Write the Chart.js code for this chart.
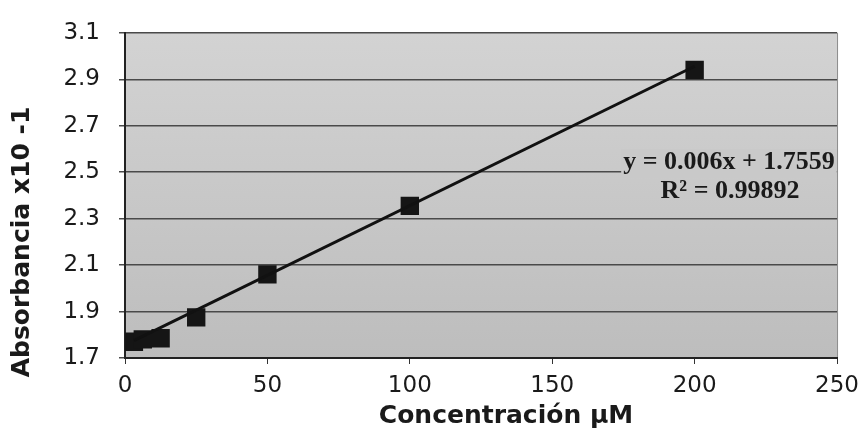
<!DOCTYPE html>
<html>
<head>
<meta charset="utf-8">
<script src="https://cdn.jsdelivr.net/npm/chart.js@4"></script>
<style>
  html, body { margin: 0; padding: 0; background: #fff; }
  #wrap { width: 867px; height: 436px; }
</style>
</head>
<body>
<div id="wrap"><canvas id="curve" width="867" height="436"></canvas></div>
<script>
// calibration data: concentration (uM) vs absorbance
const concentrations = [3.125, 6.25, 12.5, 25, 50, 100, 200];
const absorbance = [1.77, 1.78, 1.785, 1.875, 2.06, 2.355, 2.94];

// linear fit shown in the label
const slope = 0.006;
const intercept = 1.7559;
const rSquared = "0.99892";

const xTicks = [0, 50, 100, 150, 200, 250];
const yTicks = [1.7, 1.9, 2.1, 2.3, 2.5, 2.7, 2.9, 3.1];

const fitLine = [concentrations[0], concentrations[concentrations.length - 1]].map(c => ({
  x: c,
  y: slope * c + intercept,
}));

const points = concentrations.map((c, i) => ({ x: c, y: absorbance[i] }));

// grey gradient behind the plot area
const plotBackground = {
  id: "plotBackground",
  beforeDraw(chart) {
    const { ctx, chartArea: a } = chart;
    const g = ctx.createLinearGradient(0, a.top, 0, a.bottom);
    g.addColorStop(0, "#d3d3d3");
    g.addColorStop(1, "#bdbdbd");
    ctx.save();
    ctx.fillStyle = g;
    ctx.fillRect(a.left, a.top, a.right - a.left, a.bottom - a.top);
    ctx.strokeStyle = "#8a8a8a";
    ctx.lineWidth = 1;
    ctx.beginPath();
    ctx.moveTo(a.right + 0.5, a.top);
    ctx.lineTo(a.right + 0.5, a.bottom);
    ctx.stroke();
    ctx.restore();
  },
};

// axis titles and the fit equation
const annotations = {
  id: "annotations",
  afterDraw(chart) {
    const { ctx } = chart;
    ctx.save();
    ctx.fillStyle = "#1a1a1a";
    ctx.textAlign = "center";
    ctx.textBaseline = "middle";
    ctx.font = "bold 25px 'DejaVu Sans'";
    ctx.fillText("Concentración μM", 506, 416);
    ctx.save();
    ctx.translate(22, 242);
    ctx.rotate(-Math.PI / 2);
    ctx.fillText("Absorbancia x10 -1", 0, 0);
    ctx.restore();

    const line1 = "y = " + slope + "x + " + intercept;
    ctx.font = "bold 26px 'Liberation Serif'";
    const w = ctx.measureText(line1).width;
    ctx.fillStyle = "#c9c9c9";
    ctx.fillRect(729 - w / 2 - 2, 149, w + 4, 28);
    ctx.fillStyle = "#1a1a1a";
    ctx.fillText(line1, 729, 162);
    ctx.fillText("R² = " + rSquared, 730, 191);
    ctx.restore();
  },
};

new Chart(document.getElementById("curve").getContext("2d"), {
  type: "scatter",
  data: {
    datasets: [
      {
        type: "line",
        label: "Lineal",
        data: fitLine,
        borderColor: "#111",
        borderWidth: 3,
        pointRadius: 0,
        fill: false,
      },
      {
        label: "Absorbancia",
        data: points,
        pointStyle: "rect",
        pointRadius: 13,
        pointHoverRadius: 13,
        backgroundColor: "#151515",
        borderWidth: 0,
      },
    ],
  },
  options: {
    responsive: false,
    animation: false,
    layout: { padding: { top: 24, right: 27, left: 0, bottom: 0 } },
    plugins: {
      legend: { display: false },
      tooltip: { enabled: false },
    },
    scales: {
      x: {
        type: "linear",
        min: xTicks[0],
        max: xTicks[xTicks.length - 1],
        afterFit(scale) { scale.height = 78; },
        afterBuildTicks(scale) { scale.ticks = xTicks.map(v => ({ value: v })); },
        border: { color: "#222", width: 2 },
        grid: { display: true, drawOnChartArea: false, color: "#333", tickLength: 6 },
        ticks: { color: "#1a1a1a", font: { family: "'DejaVu Sans'", size: 23 }, padding: 8 },
      },
      y: {
        type: "linear",
        min: yTicks[0],
        max: yTicks[yTicks.length - 1],
        afterFit(scale) { scale.width = 125; },
        afterBuildTicks(scale) { scale.ticks = yTicks.map(v => ({ value: v })); },
        border: { color: "#222", width: 2 },
        grid: { color: "#4a4a4a", lineWidth: 1.5, tickLength: 6 },
        ticks: {
          color: "#1a1a1a",
          font: { family: "'DejaVu Sans'", size: 23 },
          padding: 19,
          callback: v => v.toFixed(1),
        },
      },
    },
  },
  plugins: [plotBackground, annotations],
});
</script>
</body>
</html>
